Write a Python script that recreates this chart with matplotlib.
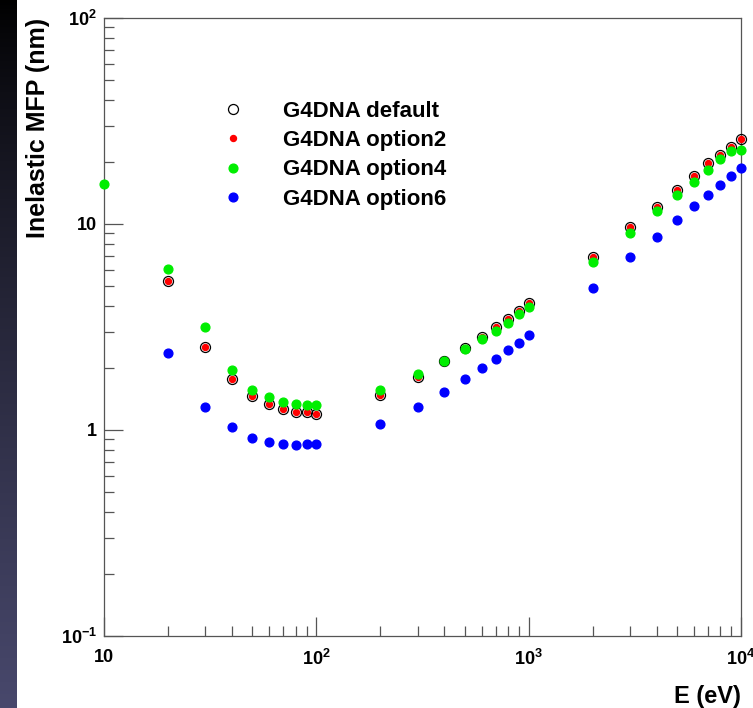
import numpy as np
import matplotlib
matplotlib.use('Agg')
import matplotlib.pyplot as plt
from matplotlib.ticker import FixedLocator, FixedFormatter, NullFormatter

plt.rcParams['font.family'] = ['Liberation Sans', 'DejaVu Sans']
plt.rcParams['font.weight'] = 'bold'
plt.rcParams['mathtext.fontset'] = 'custom'
plt.rcParams['mathtext.rm'] = 'Liberation Sans:bold'
plt.rcParams['mathtext.bf'] = 'Liberation Sans:bold'
plt.rcParams['mathtext.it'] = 'Liberation Sans:bold'
plt.rcParams['mathtext.default'] = 'rm'

nan = np.nan
energy = [10, 20, 30, 40, 50, 60, 70, 80, 90, 100,
          200, 300, 400, 500, 600, 700, 800, 900, 1000,
          2000, 3000, 4000, 5000, 6000, 7000, 8000, 9000, 10000]

mfp_default = [nan, 5.31, 2.53, 1.77, 1.46, 1.34, 1.26, 1.22, 1.22, 1.20,
               1.48, 1.80, 2.16, 2.50, 2.82, 3.17, 3.46, 3.80, 4.12,
               6.94, 9.67, 12.1, 14.7, 17.1, 19.7, 21.7, 23.7, 25.9]
mfp_option2 = [nan, 5.31, 2.53, 1.77, 1.46, 1.34, 1.26, 1.22, 1.22, 1.20,
               1.48, 1.80, 2.16, 2.50, 2.82, 3.17, 3.46, 3.80, 4.12,
               6.94, 9.67, 12.1, 14.7, 17.1, 19.7, 21.7, 23.7, 25.9]
mfp_option4 = [15.6, 6.03, 3.17, 1.95, 1.57, 1.44, 1.36, 1.34, 1.32, 1.32,
               1.56, 1.86, 2.16, 2.46, 2.77, 3.03, 3.32, 3.66, 3.95,
               6.56, 9.07, 11.5, 13.8, 16.0, 18.3, 20.6, 22.7, 22.8]
mfp_option6 = [nan, 2.36, 1.29, 1.03, 0.918, 0.878, 0.859, 0.849, 0.859, 0.859,
               1.07, 1.29, 1.53, 1.76, 1.99, 2.21, 2.44, 2.65, 2.90,
               4.89, 6.89, 8.68, 10.5, 12.2, 13.9, 15.5, 17.1, 18.8]

labels = ['G4DNA default', 'G4DNA option2', 'G4DNA option4', 'G4DNA option6']

xticks = [10, 100, 1000, 10000]
xticklabels = ['10', '$10^{2}$', '$10^{3}$', '$10^{4}$']
yticks = [0.1, 1, 10, 100]
yticklabels = ['$10^{-1}$', '1', '10', '$10^{2}$']

W, H = 753, 708
fig = plt.figure(figsize=(W / 100, H / 100), dpi=100)
fig.patch.set_facecolor('white')

# dark strip on the left edge
strip = fig.add_axes([0, 0, 17 / W, 1])
grad = np.linspace(0, 1, 256) ** 0.8
img = np.zeros((256, 1, 3))
img[:, 0, 0] = grad * 72 / 255
img[:, 0, 1] = grad * 72 / 255
img[:, 0, 2] = grad * 108 / 255
strip.imshow(img, aspect='auto', extent=[0, 1, 0, 1], origin='upper')
strip.axis('off')

ax = fig.add_axes([104 / W, 1 - 636 / H, (741 - 104) / W, (636 - 18) / H])
ax.set_xscale('log')
ax.set_yscale('log')
ax.set_xlim(10, 10000)
ax.set_ylim(0.1, 100)

ax.plot(energy, mfp_default, 'o', ms=7.2, mfc='none', mec='black', mew=0.9,
        label=labels[0], clip_on=False, zorder=3)
ax.plot(energy, mfp_option2, 'o', ms=4.3, color='red', mec='red',
        label=labels[1], clip_on=False, zorder=4)
ax.plot(energy, mfp_option4, 'o', ms=6.3, color='#00ee00', mec='#00ee00',
        label=labels[2], clip_on=False, zorder=5)
ax.plot(energy, mfp_option6, 'o', ms=6.3, color='#0000ff', mec='#0000ff',
        label=labels[3], clip_on=False, zorder=6)

for s in ax.spines.values():
    s.set_color('#555555')
    s.set_linewidth(0.9)

ax.xaxis.set_major_locator(FixedLocator(xticks))
ax.xaxis.set_major_formatter(FixedFormatter(xticklabels))
ax.xaxis.set_minor_formatter(NullFormatter())
ax.yaxis.set_major_locator(FixedLocator(yticks))
ax.yaxis.set_major_formatter(FixedFormatter(yticklabels))
ax.yaxis.set_minor_formatter(NullFormatter())
ax.tick_params(which='both', direction='in', top=False, right=False,
               color='#555555', width=0.9)
ax.tick_params(which='major', length=13.5)
ax.tick_params(which='minor', length=7)
ax.tick_params(axis='x', which='major', labelsize=13, pad=9)
ax.tick_params(axis='y', which='major', labelsize=13, pad=5)

ax.set_ylabel('Inelastic MFP (nm)', fontsize=18, fontweight='bold')
ax.yaxis.label.set_horizontalalignment('right')
ax.yaxis.label.set_verticalalignment('center')
ax.yaxis.set_label_coords((38 - 104) / 637, 1.0)
ax.set_xlabel('E (eV)', fontsize=17, fontweight='bold')
ax.xaxis.label.set_horizontalalignment('right')
ax.xaxis.label.set_verticalalignment('center')
ax.xaxis.set_label_coords(1.0, (636 - 696) / 618)

ax.legend(loc='upper left', bbox_to_anchor=(222 / W, 1 - 101 / H),
          bbox_transform=fig.transFigure, frameon=False, fontsize=16,
          handlelength=1.0, handletextpad=1.75, labelspacing=0.37,
          borderpad=0, borderaxespad=0)

fig.savefig('out.png', dpi=100)
